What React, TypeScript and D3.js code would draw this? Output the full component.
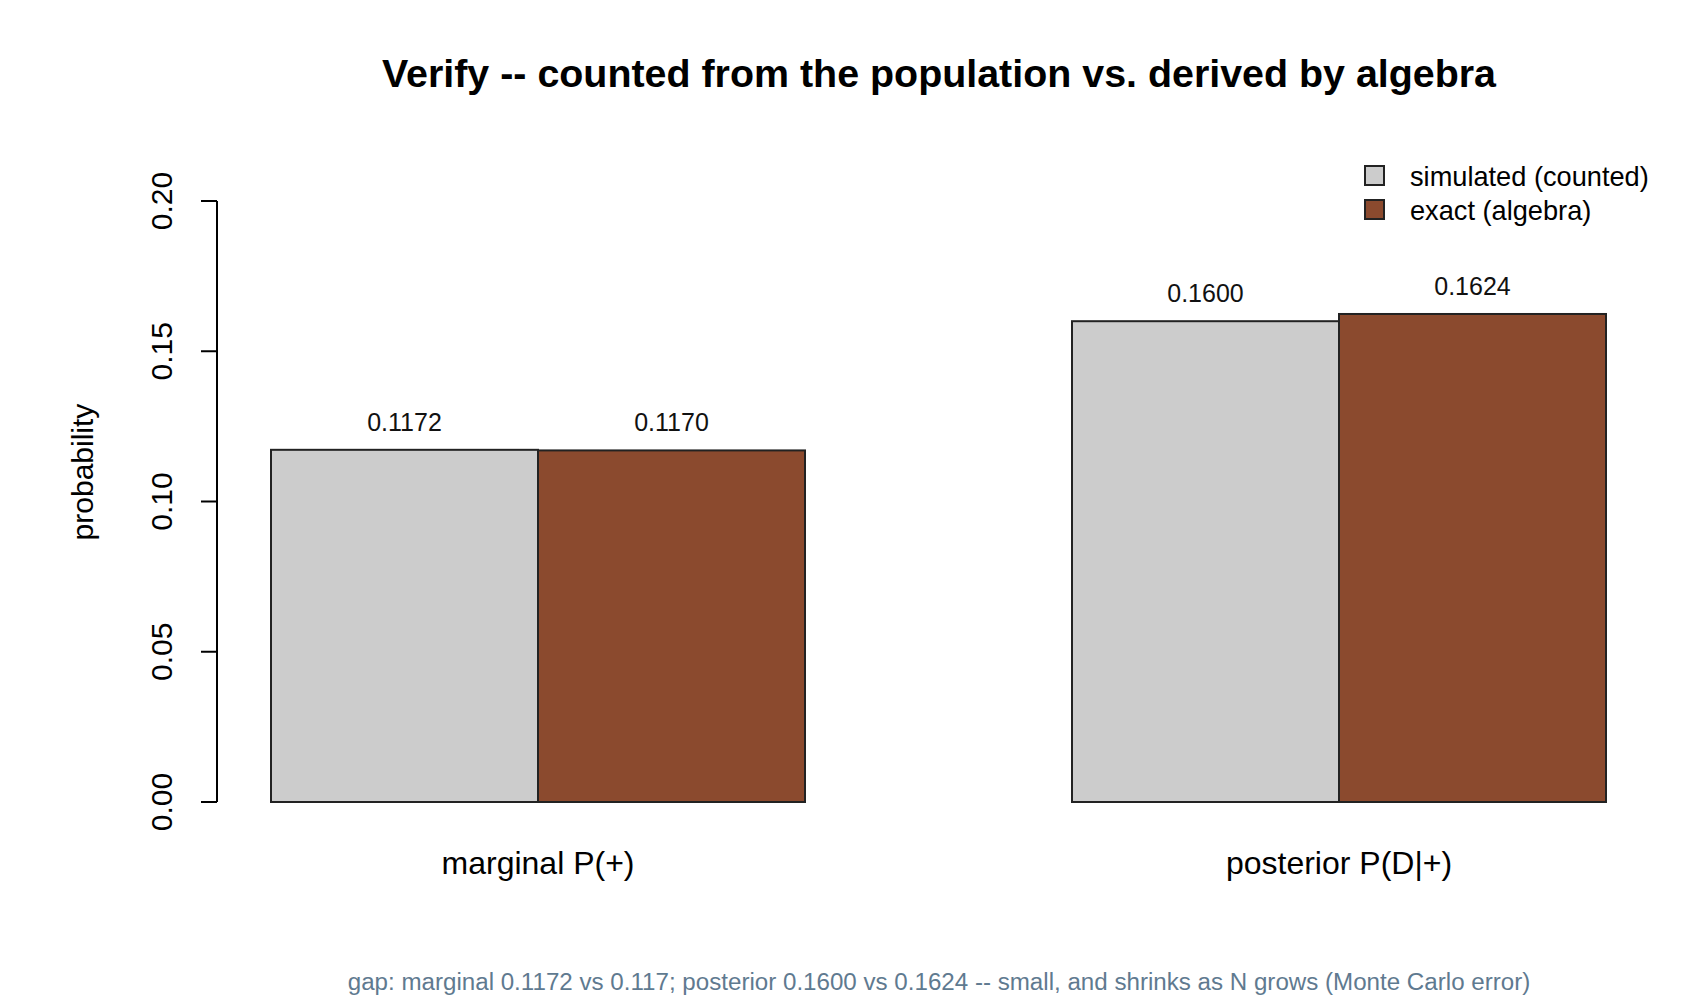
import React, { useEffect } from 'react'
import * as d3 from 'd3'

const categories = ['marginal P(+)', 'posterior P(D|+)']
const seriesNames = ['simulated (counted)', 'exact (algebra)']
const simulated = [0.1172, 0.16]
const exact = [0.117, 0.1624]
const yTicks = [0, 0.05, 0.1, 0.15, 0.2]
const seriesColors = ['#cccccc', '#8b4a2e']

const titleText = 'Verify -- counted from the population vs. derived by algebra'
const footerText =
  'gap: marginal 0.1172 vs 0.117; posterior 0.1600 vs 0.1624 -- small, and shrinks as N grows (Monte Carlo error)'

const W = 1700
const H = 1000
const FONT = '"Liberation Sans", Arial, Helvetica, sans-serif'

export default function App() {
  useEffect(() => {
    document.body.style.margin = '0'
  }, [])

  // plot frame (R barplot style)
  const plotLeft = 218
  const y = d3.scaleLinear().domain([0, 0.2]).range([802, 201])

  const xGroup = d3
    .scaleBand<string>()
    .domain(categories)
    .range([271, 1606])
    .paddingInner(1 / 3)
    .paddingOuter(0)
  const xSeries = d3
    .scaleBand<string>()
    .domain(seriesNames)
    .range([0, xGroup.bandwidth()])

  const values = [simulated, exact]
  const bars = categories.flatMap((c, gi) =>
    seriesNames.map((s, si) => ({ cat: c, series: s, si, value: values[si][gi] }))
  )

  const cx = 939

  return (
    <svg width={W} height={H} style={{ display: 'block', background: '#fff' }} fontFamily={FONT}>
      <text x={cx} y={73} textAnchor="middle" dominantBaseline="central" fontSize={39.4} fontWeight="bold" fill="#000">
        {titleText}
      </text>

      {/* y axis */}
      <line x1={plotLeft - 1} x2={plotLeft - 1} y1={y(0.2)} y2={y(0)} stroke="#000" strokeWidth={2} />
      {yTicks.map((t) => (
        <g key={t}>
          <line x1={plotLeft - 17} x2={plotLeft - 1} y1={y(t)} y2={y(t)} stroke="#000" strokeWidth={2} />
          <text
            transform={`translate(161,${y(t)}) rotate(-90)`}
            textAnchor="middle"
            dominantBaseline="central"
            fontSize={30}
            fill="#000"
          >
            {t.toFixed(2)}
          </text>
        </g>
      ))}
      <text
        transform={`translate(82,472) rotate(-90)`}
        textAnchor="middle"
        dominantBaseline="central"
        fontSize={30}
        fill="#000"
      >
        probability
      </text>

      {/* bars */}
      {bars.map((b) => {
        const x0 = (xGroup(b.cat) ?? 0) + (xSeries(b.series) ?? 0)
        return (
          <g key={b.cat + b.series}>
            <rect
              x={x0}
              y={y(b.value)}
              width={xSeries.bandwidth()}
              height={y(0) - y(b.value)}
              fill={seriesColors[b.si]}
              stroke="#222"
              strokeWidth={2}
            />
            <text
              x={x0 + xSeries.bandwidth() / 2}
              y={y(b.value) - 28}
              textAnchor="middle"
              dominantBaseline="central"
              fontSize={25}
              fill="#111"
            >
              {b.value.toFixed(4)}
            </text>
          </g>
        )
      })}

      {/* category labels */}
      {categories.map((c) => (
        <text
          key={c}
          x={(xGroup(c) ?? 0) + xGroup.bandwidth() / 2}
          y={863}
          textAnchor="middle"
          dominantBaseline="central"
          fontSize={32}
          fill="#000"
        >
          {c}
        </text>
      ))}

      {/* legend */}
      {seriesNames.map((s, i) => (
        <g key={s} transform={`translate(1365,${166 + i * 34})`}>
          <rect x={0} y={0} width={19} height={19} fill={seriesColors[i]} stroke="#222" strokeWidth={2} />
          <text x={45} y={10} dominantBaseline="central" fontSize={27.2} fill="#000">
            {s}
          </text>
        </g>
      ))}

      <text x={cx} y={981} textAnchor="middle" dominantBaseline="central" fontSize={24.15} fill="#5f7a90">
        {footerText}
      </text>
    </svg>
  )
}
